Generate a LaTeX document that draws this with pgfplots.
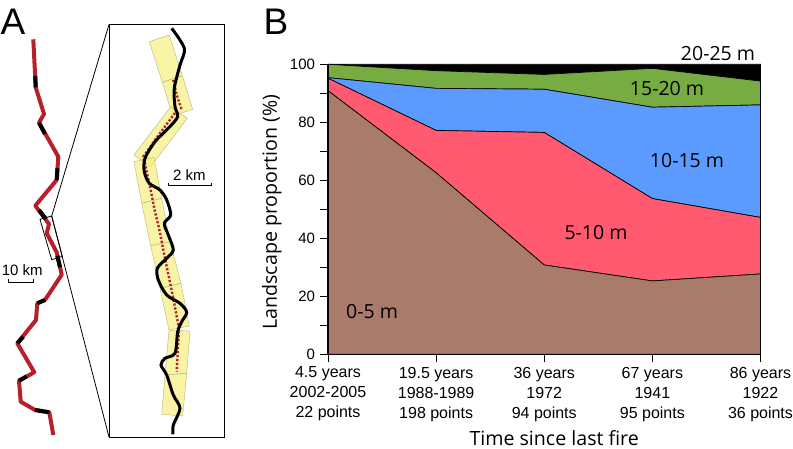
\documentclass[border=0pt]{standalone}
\usepackage{fontspec}
\usepackage{pgfplots}
\usepackage{pgfplotstable}
\pgfplotsset{compat=1.18}
\setmainfont{Liberation Sans}
\newfontfamily\myr{Open Sans}
\definecolor{cbrown}{HTML}{A97B6B}
\definecolor{cred}{HTML}{FF5A70}
\definecolor{cblue}{HTML}{5B9BFF}
\definecolor{cgreen}{HTML}{76AC41}
\definecolor{track}{HTML}{B81F2B}
\definecolor{swath}{HTML}{F6EE80}
\definecolor{swathedge}{HTML}{B8B478}

% share of each height class, stacked
\pgfplotstableread{
x  h0    h5    h10   h15   h20
0  90.9  4.3   0.2   4.6   0.0
1  62.6  14.6  14.5  6.1   2.2
2  30.8  45.7  14.9  5.1   3.5
3  25.3  28.4  31.5  13.4  1.4
4  27.7  19.5  38.8  8.2   5.8
}\heights

\begin{document}
\begin{tikzpicture}
\path[use as bounding box] (0,0) rectangle (793pt,449pt);

% panel B
\begin{axis}[
  at={(328pt,94.7pt)}, anchor=south west,
  scale only axis, width=432.5pt, height=290pt,
  xmin=0, xmax=4, ymin=0, ymax=100,
  stack plots=y, clip=false, axis on top,
  axis x line=bottom, axis y line=left,
  axis line style={-, line width=1.5pt},
  xtick={0,1,2,3,4},
  xticklabels={{4.5 years\\2002-2005\\22 points},{19.5 years\\1988-1989\\198 points},{36 years\\1972\\94 points},{67 years\\1941\\95 points},{86 years\\1922\\36 points}},
  xticklabel style={align=center, font=\fontsize{16}{20}\selectfont, yshift=-1pt},
  ytick={0,20,40,60,80,100},
  minor ytick={10,30,50,70,90},
  yticklabel style={font=\fontsize{15}{18}\selectfont, xshift=-1.5pt, /pgf/number format/assume math mode=true},
  tick align=outside, tick pos=lower,
  major tick length=8pt, minor tick length=8pt,
  tick style={black, line width=0.7pt},
  minor tick style={black, line width=0.7pt},
  xlabel={Time since last fire},
  ylabel={Landscape proportion (\%)},
  xlabel style={at={(axis description cs:0.523,-0.29)}, anchor=center, font=\myr\fontsize{19.6}{22}\selectfont},
  ylabel style={at={(axis description cs:-0.13,0.49)}, anchor=center, font=\myr\fontsize{19.6}{22}\selectfont},
]
\addplot[fill=cbrown, draw=black, line width=0.7pt] table[x=x, y=h0] {\heights} \closedcycle;
\addplot[fill=cred, draw=black, line width=0.7pt] table[x=x, y=h5] {\heights} \closedcycle;
\addplot[fill=cblue, draw=black, line width=0.7pt] table[x=x, y=h10] {\heights} \closedcycle;
\addplot[fill=cgreen, draw=black, line width=0.7pt] table[x=x, y=h15] {\heights} \closedcycle;
\addplot[fill=black, draw=black, line width=0.7pt] table[x=x, y=h20] {\heights} \closedcycle;
\end{axis}

% panel A and the free labels, drawn in the picture's pixel coordinates
\begin{axis}[
  at={(0pt,0pt)}, anchor=south west,
  scale only axis, width=793pt, height=449pt,
  xmin=0, xmax=793, ymin=0, ymax=449, y dir=reverse,
  hide axis, clip=false,
]
% overview track
\addplot[track, line width=4pt, line join=round] coordinates {
 (33.3,39.3) (35.7,87.3) (44,114) (39,122.7) (58.3,156.7) (56.7,180) (35.3,205.7)
 (49,224) (46.7,233.3) (56.7,252.3) (61.7,274.7) (45,300) (37.3,303.3) (36,320)
 (17.3,343.3) (34.3,372.3) (19,380.7) (20.7,401.7) (35,410) (49.3,412.3) (53.3,435)};
\addplot[black, line width=4pt] coordinates {(35.3,76) (35.7,87.3)};
\addplot[black, line width=4pt] coordinates {(39,122.7) (45,134)};
\addplot[black, line width=4pt] coordinates {(57.5,168) (56.7,180)};
\addplot[black, line width=4pt] coordinates {(39,210) (46,219)};
\addplot[black, line width=4pt] coordinates {(57.3,255.7) (60,267.3)};
\addplot[black, line width=4pt] coordinates {(45,300) (37.3,303.3)};
\addplot[black, line width=4pt] coordinates {(23.3,336.7) (17.3,343.3)};
\addplot[black, line width=4pt] coordinates {(26.7,376.3) (19,380.7)};
\addplot[black, line width=4pt] coordinates {(35,410) (49.3,412.3)};
% inset outline
\addplot[black, line width=0.8pt] coordinates {(40,219.3) (51.7,216) (62.3,256.3) (51.7,259.7)} --cycle;
\addplot[black, line width=0.8pt] coordinates {(51.7,216) (109,24.5)};
\addplot[black, line width=0.8pt] coordinates {(51.7,216) (109,437)};
\addplot[black, line width=1pt] coordinates {(109,24.3) (224.3,24.3) (224.3,437.3) (109,437.3)} --cycle;
% swaths
\addplot[fill=swath, fill opacity=0.7, draw=swathedge, line width=0.4pt] coordinates {(149.3,41.7) (169.3,35) (182.3,75.7) (162.3,82.3)} --cycle;
\addplot[fill=swath, fill opacity=0.7, draw=swathedge, line width=0.4pt] coordinates {(162.3,82.3) (182.3,75.7) (192.7,109.3) (172.7,116)} --cycle;
\addplot[fill=swath, fill opacity=0.7, draw=swathedge, line width=0.4pt] coordinates {(170.7,106.7) (187.3,118.3) (150.7,166.7) (134,155)} --cycle;
\addplot[fill=swath, fill opacity=0.7, draw=swathedge, line width=0.4pt] coordinates {(134,161.7) (154,157.3) (161.7,198.3) (141.7,203.3)} --cycle;
\addplot[fill=swath, fill opacity=0.7, draw=swathedge, line width=0.4pt] coordinates {(141.7,203.3) (161.7,198.3) (170,241.7) (150.7,245.7)} --cycle;
\addplot[fill=swath, fill opacity=0.7, draw=swathedge, line width=0.4pt] coordinates {(150.7,245.7) (170,241.7) (181,283.3) (160,288.3)} --cycle;
\addplot[fill=swath, fill opacity=0.7, draw=swathedge, line width=0.4pt] coordinates {(160,288.3) (181,283.3) (189.3,326) (169,330)} --cycle;
\addplot[fill=swath, fill opacity=0.7, draw=swathedge, line width=0.4pt] coordinates {(169,330) (190,331) (186.7,373.3) (165,375)} --cycle;
\addplot[fill=swath, fill opacity=0.7, draw=swathedge, line width=0.4pt] coordinates {(165,375) (186.7,373.3) (182.7,416) (161.7,414.3)} --cycle;
% sample points along the transect, under the river
\addplot[track, line width=2.4pt, dash pattern=on 2.2pt off 1.8pt] coordinates {
 (173.3,80) (176.7,95) (181.7,110)};
\addplot[track, line width=2.4pt, dash pattern=on 2.2pt off 1.8pt] coordinates {
 (175,113) (155,140) (143.3,156.7) (149.3,183.3) (155,211.7) (159,228) (165,258.3)
 (173.3,298.3) (179,328.3) (176.7,371.7)};
% river
\addplot[black, line width=3pt, smooth, tension=0.5] coordinates {
 (171.7,28.3) (184.3,48.3) (180,65) (174.3,88.3) (175,106.7) (177.7,116.7) (168.3,128.3)
 (155,141.7) (145,158.3) (144.3,171.7) (149.3,183.3) (160,190) (166.7,200) (170.7,215)
 (164.3,223.3) (168.3,235) (173.3,250) (166.7,258.3) (157.3,268.3) (158.3,280) (166.7,295)
 (180,303.3) (186.7,312.3) (181.7,321.7) (177.7,331.7) (175,353.3) (165,358.3) (161,365)
 (166.7,375) (173.3,395) (180,408.3) (173.3,425) (173,434.3)};
% scale bars
\addplot[black, line width=1pt] coordinates {(168.3,183) (168.3,185.7) (211,185.7) (211,183)};
\addplot[black, line width=1pt] coordinates {(8,279.5) (8,282.7) (33,282.7) (33,279.5)};
\node[font=\fontsize{15}{18}\selectfont] at (axis cs:189.5,175) {2 km};
\node[font=\fontsize{15}{18}\selectfont] at (axis cs:22.3,270) {10 km};
\node[font=\fontsize{37}{40}\selectfont] at (axis cs:13,21.5) {A};
\node[font=\fontsize{37}{40}\selectfont] at (axis cs:276,21.5) {B};
% height class labels
\node[font=\myr\fontsize{19.5}{22}\selectfont] at (axis cs:372,312) {0-5 m};
\node[font=\myr\fontsize{19.5}{22}\selectfont] at (axis cs:596,233) {5-10 m};
\node[font=\myr\fontsize{19.5}{22}\selectfont] at (axis cs:687,160.7) {10-15 m};
\node[font=\myr\fontsize{19.5}{22}\selectfont] at (axis cs:667,88.3) {15-20 m};
\node[font=\myr\fontsize{19.5}{22}\selectfont] at (axis cs:718,54) {20-25 m};
\end{axis}
\end{tikzpicture}
\end{document}
